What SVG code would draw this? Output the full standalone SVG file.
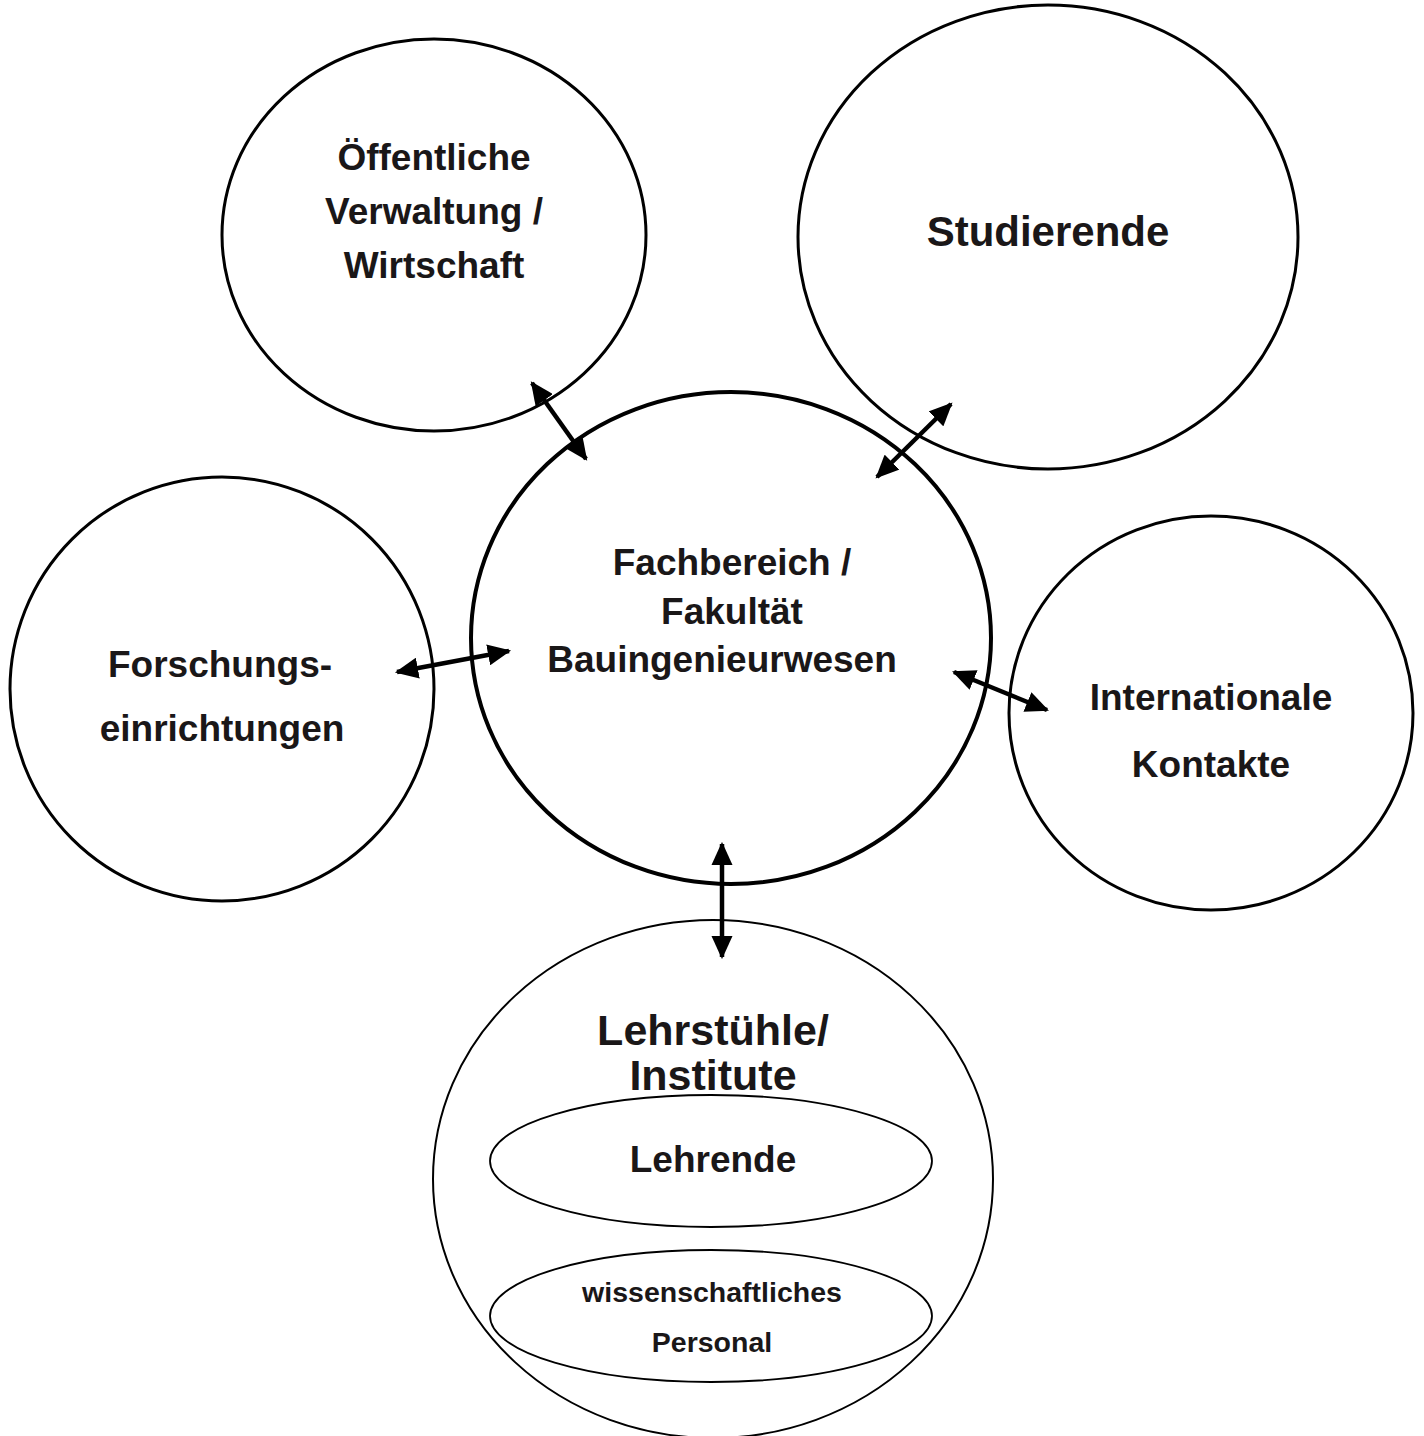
<svg xmlns="http://www.w3.org/2000/svg" width="1424" height="1436" viewBox="0 0 1424 1436">
  <style>
    .node { fill: none; stroke: #000; stroke-width: 3; }
    .thick { stroke-width: 4; }
    .thin { stroke-width: 2; }
    .inner { stroke-width: 1.8; }
    text { font-family: "Liberation Sans", Arial, sans-serif; font-weight: bold; fill: #1a1718; text-anchor: middle; }
    .t37 { font-size: 37px; }
    .t42 { font-size: 42px; }
    .t43 { font-size: 43px; }
    .t28 { font-size: 28.5px; }
    .link { stroke: #000; stroke-width: 4.5; fill: none; marker-start: url(#head); marker-end: url(#head); }
  </style>
  <defs>
    <!-- solid triangular head, used at both ends of every connector -->
    <marker id="head" viewBox="0 0 11 10" refX="10" refY="5" markerWidth="5.2" markerHeight="4.7" orient="auto-start-reverse" markerUnits="strokeWidth">
      <path d="M0,0 L11,5 L0,10 z" fill="#000"/>
    </marker>
  </defs>
  <rect width="1424" height="1436" fill="#fff"/>

  <g id="oeffentliche-verwaltung">
    <ellipse class="node" cx="434" cy="235" rx="212" ry="196"/>
    <text class="t37" x="434" y="170">Öffentliche</text>
    <text class="t37" x="434" y="224">Verwaltung /</text>
    <text class="t37" x="434" y="278">Wirtschaft</text>
  </g>

  <g id="studierende">
    <ellipse class="node" cx="1048" cy="237" rx="250" ry="232"/>
    <text class="t42" x="1048" y="246">Studierende</text>
  </g>

  <g id="fachbereich">
    <ellipse class="node thick" cx="731" cy="638" rx="260" ry="246"/>
    <text class="t37" x="732" y="575">Fachbereich /</text>
    <text class="t37" x="732" y="624">Fakultät</text>
    <text class="t37" x="722" y="672">Bauingenieurwesen</text>
  </g>

  <g id="forschungseinrichtungen">
    <ellipse class="node" cx="222" cy="689" rx="212" ry="212"/>
    <text class="t37" x="220" y="677">Forschungs-</text>
    <text class="t37" x="222" y="741">einrichtungen</text>
  </g>

  <g id="internationale-kontakte">
    <ellipse class="node" cx="1211" cy="713" rx="202" ry="197"/>
    <text class="t37" x="1211" y="710">Internationale</text>
    <text class="t37" x="1211" y="777">Kontakte</text>
  </g>

  <g id="lehrstuehle">
    <ellipse class="node thin" cx="713" cy="1179" rx="280" ry="259"/>
    <text class="t43" x="713" y="1045">Lehrstühle/</text>
    <text class="t43" x="713" y="1090">Institute</text>
  </g>

  <g id="lehrende">
    <ellipse class="node inner" cx="711" cy="1161" rx="221" ry="66"/>
    <text class="t37" x="713" y="1172">Lehrende</text>
  </g>

  <g id="wissenschaftliches-personal">
    <ellipse class="node inner" cx="711" cy="1316" rx="221" ry="66"/>
    <text class="t28" x="712" y="1302">wissenschaftliches</text>
    <text class="t28" x="712" y="1352">Personal</text>
  </g>

  <g id="connectors">
    <line class="link" x1="532" y1="383" x2="586" y2="459"/>
    <line class="link" x1="951" y1="404" x2="877" y2="477"/>
    <line class="link" x1="397" y1="672" x2="509" y2="651"/>
    <line class="link" x1="954" y1="672" x2="1047" y2="710"/>
    <line class="link" x1="722" y1="844" x2="722" y2="957"/>
  </g>
</svg>
